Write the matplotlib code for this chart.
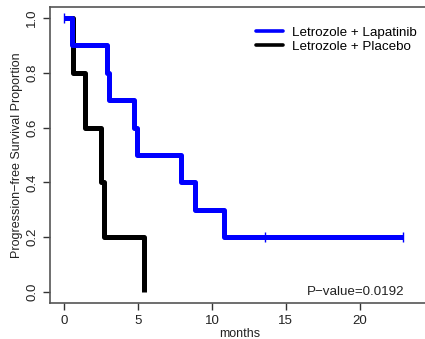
import matplotlib
matplotlib.use("Agg")
import matplotlib.pyplot as plt
from matplotlib.lines import Line2D

plt.rcParams['font.family'] = ['Liberation Sans', 'DejaVu Sans']

# Letrozole + Lapatinib: step times (months) and survival after each step
lap_times = [0, 0.55, 2.9, 3.05, 4.7, 4.95, 7.9, 8.85, 10.8, 22.9]
lap_surv = [1.0, 0.9, 0.8, 0.7, 0.6, 0.5, 0.4, 0.3, 0.2, 0.2]
lap_censor = [0, 13.6, 22.9]
lap_censor_surv = [1.0, 0.2, 0.2]

# Letrozole + Placebo
pla_times = [0, 0.6, 1.4, 2.5, 2.7, 5.4]
pla_surv = [1.0, 0.8, 0.6, 0.4, 0.2, 0.0]

xticks = [0, 5, 10, 15, 20]
yticks = [0.0, 0.2, 0.4, 0.6, 0.8, 1.0]

fig = plt.figure(figsize=(4.25, 3.39), dpi=100)
ax = fig.add_axes([50 / 425, 1 - 303 / 339, 1 - 50 / 425 + 0.01, 296 / 339])

ax.step(pla_times, pla_surv, where='post', color='black', lw=3.6,
        solid_capstyle='butt', zorder=2)
ax.step(lap_times, lap_surv, where='post', color='#0000ff', lw=3.6,
        solid_capstyle='butt', zorder=3)
ax.plot(lap_censor, lap_censor_surv, ls='none', marker='|', ms=7, mew=1,
        color='#0000ff', zorder=4)

ax.set_xlim(-0.96, 24.7)
ax.set_ylim(-0.04, 1.04)
ax.set_xticks(xticks)
ax.set_yticks(yticks)
ax.set_yticklabels([f"{v:.1f}" for v in yticks], rotation=90, va='center')

for s in ['top', 'left', 'bottom']:
    ax.spines[s].set_color('#555555')
    ax.spines[s].set_linewidth(1.2)
ax.spines['right'].set_visible(False)
ax.tick_params(colors='#333333', labelcolor='#222222', labelsize=9.5,
               length=5, width=1)

ax.set_xlabel('months', fontsize=9, color='#222222', labelpad=1)
ax.set_ylabel('Progression\u2212free Survival Proportion', fontsize=9,
              color='#222222', labelpad=2)

handles = [Line2D([], [], color='#0000ff', lw=2.6, solid_capstyle='round'),
           Line2D([], [], color='black', lw=2.6, solid_capstyle='round')]
labels = ['Letrozole + Lapatinib', 'Letrozole + Placebo']
ax.legend(handles, labels, loc='upper left', frameon=False,
          fontsize=9.6, handlelength=2.0, handletextpad=0.7, labelspacing=0.12,
          bbox_to_anchor=(0.519, 0.965), borderaxespad=0.3)

ax.text(0.934, 0.037, 'P\u2212value=0.0192', transform=ax.transAxes,
        ha='right', va='center', fontsize=9.6, color='#222222')

fig.savefig('out.png', dpi=100)
plt.close(fig)
